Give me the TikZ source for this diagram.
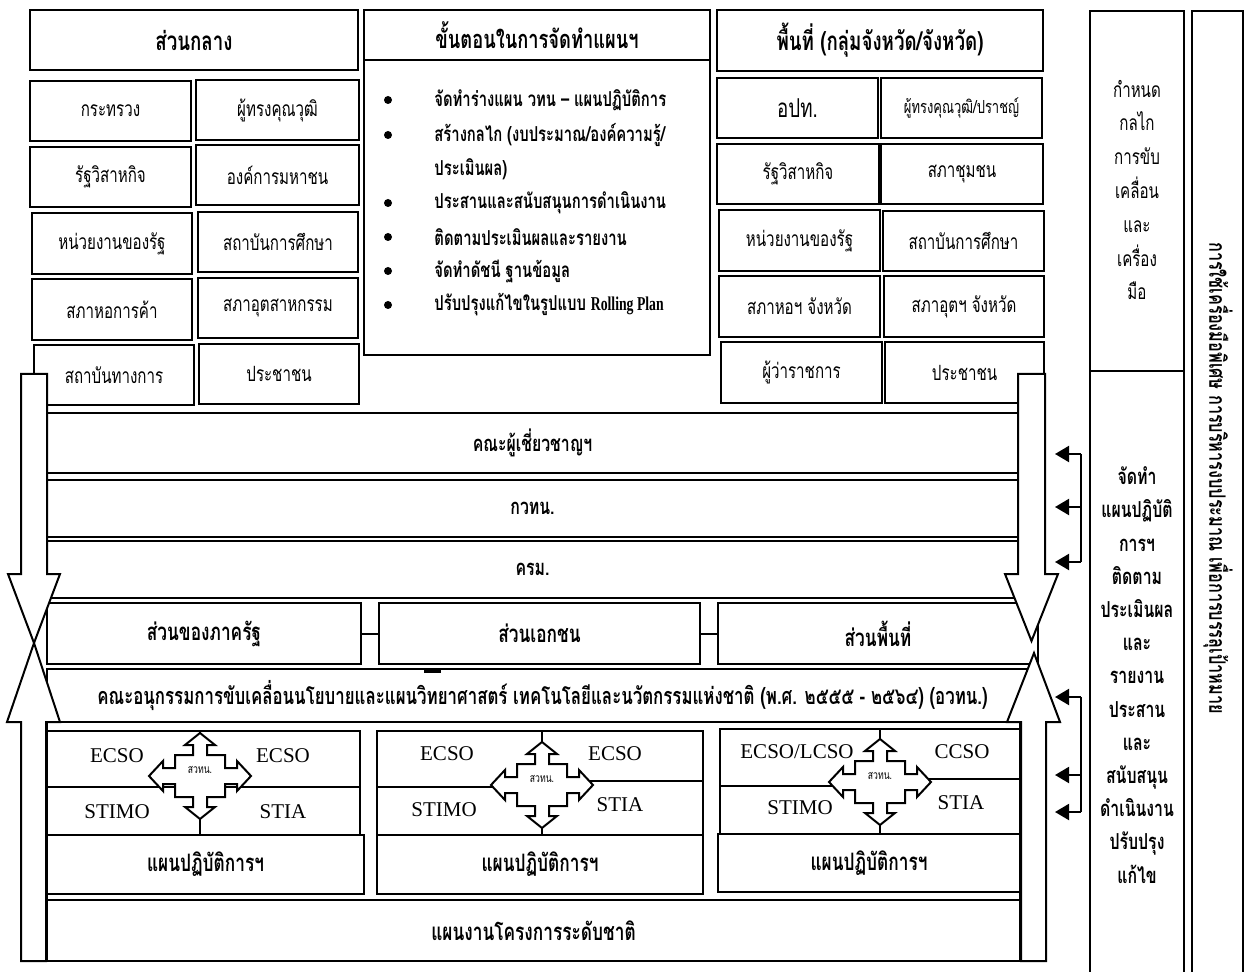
\documentclass[tikz,border=0pt]{standalone}
\usepackage{fontspec}
\setmainfont{Liberation Serif}
\newfontfamily\thai[Script=Thai,FakeStretch=0.72]{Loma}
\newfontfamily\latc[FakeStretch=0.7]{Liberation Serif}
\usetikzlibrary{arrows.meta}
\newcommand\fs[1]{\fontsize{#1}{#1}\selectfont}
\tikzset{
  box/.style={draw, line width=1pt, inner sep=0pt, outer sep=0pt, align=center, font=\thai\fs{10.5}},
  hd/.style={font=\thai\bfseries\fs{13}},
  bd/.style={font=\thai\bfseries\fs{11}},
  bullettxt/.style={anchor=west, inner sep=0pt, font=\thai\bfseries\fs{10.3}},
  lat/.style={inner sep=0pt, font=\fs{10.5}},
  ln/.style={line width=1pt},
  big/.style={line width=1pt, fill=white, line join=miter},
  fb/.style={line width=1pt, -{Triangle[length=7pt,width=8pt]}},
  colA/.style={align=center, inner sep=0pt, font=\thai\fontsize{10.5}{16.9}\selectfont},
  colB/.style={align=center, inner sep=0pt, font=\thai\bfseries\fontsize{11}{16.6}\selectfont},
}
% #1 style, #2 name, #3 x1, #4 y1, #5 x2, #6 y2, #7 text
\newcommand\bx[7][]{\node[box,minimum width={(#5-#3)*0.5pt},minimum height={(#6-#4)*0.5pt},#1] (#2) at ({(#3+#5)/2},{(#4+#6)/2}) {#7};}
% cross arrow: #1 name, #2 cx, #3 cy
\newcommand\xarrow[3]{%
  \begin{scope}[shift={(#2,#3)}]
  \draw[ln, fill=white, line join=miter] (0,-43) -- (15,-31) -- (7,-31) -- (7,-21) -- (25,-21) -- (25,-8) -- (37,-8) -- (37,-15) -- (51,0) -- (37,15) -- (37,8) -- (25,8) -- (25,21) -- (7,21) -- (7,31) -- (15,31) -- (0,43) -- (-15,31) -- (-7,31) -- (-7,21) -- (-25,21) -- (-25,8) -- (-37,8) -- (-37,15) -- (-51,0) -- (-37,-15) -- (-37,-8) -- (-25,-8) -- (-25,-21) -- (-7,-21) -- (-7,-31) -- (-15,-31) -- cycle;
  \node[inner sep=0pt, font=\thai\fs{6}] (#1) at (0,-6) {สวทน.};
  \end{scope}}
\begin{document}
\begin{tikzpicture}[x=0.5pt,y=-0.5pt]
\useasboundingbox (0,0) rectangle (1246,972);

% ---------- top headers ----------
\bx[hd]{hL}{30}{10}{358}{70}{ส่วนกลาง}
\bx[hd]{hR}{717}{10}{1043}{71}{พื้นที่ (กลุ่มจังหวัด/จังหวัด)}
\bx[font=\thai\bfseries\fs{12.7}]{hM}{364}{10}{710}{60}{ขั้นตอนในการจัดทำแผนฯ}
\bx{mB}{364}{60}{710}{355}{}

% bullet list
\foreach \i/\y/\t/\b in {1/100/{จัดทำร่างแผน วทน – แผนปฏิบัติการ}/1,
                         2/135/{สร้างกลไก (งบประมาณ/องค์ความรู้/}/1,
                         3/169/{ประเมินผล)}/0,
                         4/203/{ประสานและสนับสนุนการดำเนินงาน}/1,
                         5/237/{ติดตามประเมินผลและรายงาน}/1,
                         6/271/{จัดทำดัชนี ฐานข้อมูล}/1}{
  \node[bullettxt] (bt\i) at (434,\y) {\t};
  \ifnum\b=1 \fill (388,\y) circle (4);\fi
}
\node[bullettxt] (bt7) at (434,305) {ปรับปรุงแก้ไขในรูปแบบ {\latc\bfseries\fs{9.8}Rolling Plan}};
\fill (388,305) circle (4);

% left boxes
\bx{l1a}{30}{81}{191}{141}{กระทรวง}
\bx{l1b}{196}{80}{359}{140}{ผู้ทรงคุณวุฒิ}
\bx{l2a}{30}{147}{191}{207}{รัฐวิสาหกิจ}
\bx{l2b}{196}{145}{359}{205}{องค์การมหาชน}
\bx{l3a}{32}{213}{192}{274}{หน่วยงานของรัฐ}
\bx{l3b}{198}{212}{358}{272}{สถาบันการศึกษา}
\bx{l4a}{32}{279}{192}{340}{สภาหอการค้า}
\bx{l4b}{198}{278}{358}{338}{สภาอุตสาหกรรม}
\bx{l5a}{34}{345}{194}{405}{สถาบันทางการ}
\bx{l5b}{199}{344}{359}{404}{ประชาชน}

% right boxes
\bx[font=\thai\fs{13}]{r1a}{717}{78}{878}{138}{อปท.}
\bx[font=\thai\fs{9}]{r1b}{881}{78}{1042}{138}{ผู้ทรงคุณวุฒิ/ปราชญ์}
\bx{r2a}{717}{144}{879}{204}{รัฐวิสาหกิจ}
\bx{r2b}{881}{144}{1043}{204}{สภาชุมชน}
\bx{r3a}{719}{210}{880}{271}{หน่วยงานของรัฐ}
\bx{r3b}{883}{211}{1044}{271}{สถาบันการศึกษา}
\bx{r4a}{719}{276}{880}{337}{สภาหอฯ จังหวัด}
\bx{r4b}{884}{276}{1044}{337}{สภาอุตฯ จังหวัด}
\bx{r5a}{721}{342}{882}{403}{ผู้ว่าราชการ}
\bx{r5b}{885}{342}{1044}{403}{ประชาชน}

% ---------- bands ----------
\bx[bd]{b1}{47}{413}{1018}{473}{คณะผู้เชี่ยวชาญฯ}
\bx[bd]{b2}{47}{480}{1018}{537}{กวทน.}
\bx[bd]{b3}{47}{541}{1018}{598}{ครม.}
\bx[font=\thai\bfseries\fs{12}]{s1}{47}{603}{361}{664}{ส่วนของภาครัฐ}
\bx[font=\thai\bfseries\fs{12}]{s2}{379}{603}{700}{664}{ส่วนเอกชน}
\bx[font=\thai\bfseries\fs{12}]{s3}{718}{603}{1038}{664}{ส่วนพื้นที่}
\draw[ln] (s1.east) -- (s2.west);
\draw[ln] (s2.east) -- (s3.west);
\bx[font=\thai\bfseries\fs{11.7}]{b5}{47}{669}{1038}{722}{คณะอนุกรรมการขับเคลื่อนนโยบายและแผนวิทยาศาสตร์ เทคโนโลยีและนวัตกรรมแห่งชาติ (พ.ศ. ๒๕๕๕ - ๒๕๖๔) (อวทน.)}
\fill (424,669) rectangle (441,673);
\draw[ln] (47,722) rectangle (1020,961);
\bx[font=\thai\bfseries\fs{12}]{b6}{47}{900}{1020}{961}{แผนงานโครงการระดับชาติ}

% ---------- panels ----------
% panel 1
\bx{p1}{47}{731}{360}{835}{}
\bx[font=\thai\bfseries\fs{12}]{q1}{47}{835}{364}{894}{แผนปฏิบัติการฯ}
\coordinate (p1t) at (200,731); \coordinate (p1b) at (200,835);
\coordinate (p1l) at (47,787); \coordinate (p1r) at (360,787);
\draw[ln] (p1t) -- (p1b);
\draw[ln] (p1l) -- (p1r);
\xarrow{x1}{200}{776}
\node[lat] (e11) at (117,756) {ECSO};
\node[lat] (e12) at (283,756) {ECSO};
\node[lat] (e13) at (117,812) {STIMO};
\node[lat] (e14) at (283,812) {STIA};
% panel 2
\bx{p2}{377}{731}{703}{835}{}
\bx[font=\thai\bfseries\fs{12}]{q2}{377}{835}{703}{894}{แผนปฏิบัติการฯ}
\coordinate (p2t) at (542,731); \coordinate (p2b) at (542,835);
\coordinate (p2l) at (377,787); \coordinate (p2cl) at (542,787);
\coordinate (p2r) at (703,781); \coordinate (p2cr) at (542,781);
\draw[ln] (p2t) -- (p2b);
\draw[ln] (p2l) -- (p2cl);
\draw[ln] (p2cr) -- (p2r);
\xarrow{x2}{542}{785}
\node[lat] (e21) at (447,754) {ECSO};
\node[lat] (e22) at (615,754) {ECSO};
\node[lat] (e23) at (444,810) {STIMO};
\node[lat] (e24) at (620,805) {STIA};
% panel 3
\bx{p3}{720}{729}{1020}{834}{}
\bx[font=\thai\bfseries\fs{12}]{q3}{718}{834}{1020}{892}{แผนปฏิบัติการฯ}
\coordinate (p3t) at (880,729); \coordinate (p3b) at (880,834);
\coordinate (p3l) at (720,786); \coordinate (p3cl) at (880,786);
\coordinate (p3r) at (1020,779); \coordinate (p3cr) at (880,779);
\draw[ln] (p3t) -- (p3b);
\draw[ln] (p3l) -- (p3cl);
\draw[ln] (p3cr) -- (p3r);
\xarrow{x3}{880}{782}
\node[lat] (e31) at (797,752) {ECSO/LCSO};
\node[lat] (e32) at (962,752) {CCSO};
\node[lat] (e33) at (800,808) {STIMO};
\node[lat] (e34) at (961,803) {STIA};

% ---------- big arrows ----------
\draw[big] (21,961) -- (21,722) -- (7,722) -- (34,643) -- (60,722) -- (46,722) -- (46,961) -- cycle;
\draw[big] (21,374) -- (47,374) -- (47,574) -- (60,574) -- (34,643) -- (8,574) -- (21,574) -- cycle;
\draw[big] (1018,374) -- (1045,374) -- (1045,574) -- (1058,574) -- (1031.5,641) -- (1005,574) -- (1018,574) -- cycle;
\draw[big] (1021,961) -- (1021,722) -- (1007,722) -- (1034,653) -- (1060,722) -- (1046,722) -- (1046,961) -- cycle;

% ---------- feedback arrows ----------
\foreach \i/\y in {1/454,2/507,3/562,4/697,5/775,6/812}{
  \coordinate (fb\i) at (1081,\y);
  \coordinate (ft\i) at (1055,\y);
  \draw[fb] (fb\i) -- (ft\i);
}
\draw[ln] (fb1) -- (fb3);
\draw[ln] (fb4) -- (fb6);

% ---------- right columns ----------
\draw[ln] (1090,972) -- (1090,11) -- (1184,11) -- (1184,972);
\draw[ln] (1090,371) -- (1184,371);
\draw[ln] (1192,972) -- (1192,11) -- (1243,11) -- (1243,972);
\node[colA] (ca) at (1137,190) {กำหนด\\กลไก\\การขับ\\เคลื่อน\\และ\\เครื่อง\\มือ};
\node[colB] (cb) at (1137,675) {จัดทำ\\แผนปฏิบัติ\\การฯ\\ติดตาม\\ประเมินผล\\และ\\รายงาน\\ประสาน\\และ\\สนับสนุน\\ดำเนินงาน\\ปรับปรุง\\แก้ไข};
\node[rotate=-90, inner sep=0pt, font=\thai\bfseries\fs{11.3}] (vt) at (1218,478) {การใช้เครื่องมือพิเศษ การบริหารงบประมาณ เพื่อการบรรลุเป้าหมาย};
\end{tikzpicture}
\end{document}
